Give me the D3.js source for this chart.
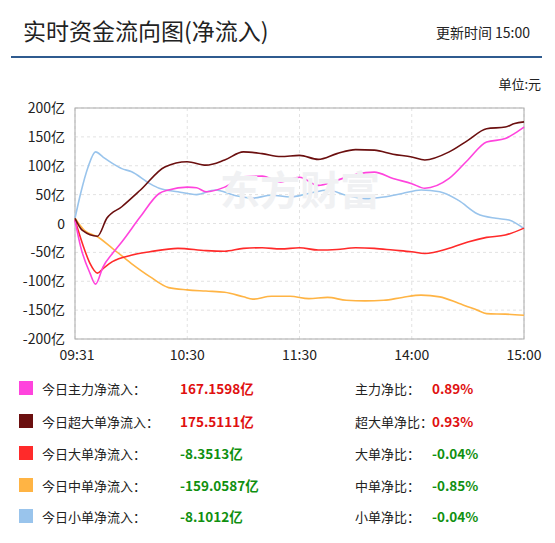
<!DOCTYPE html>
<html><head><meta charset="utf-8">
<script src="https://cdn.jsdelivr.net/npm/d3@7"></script>
<style>body{margin:0;background:#fff;font-family:"Noto Sans CJK SC",sans-serif;}</style>
</head><body>
<script>
// minute index 0..240 (morning + afternoon session)
var timeTicks = [0, 60, 120, 180, 240];
var timeLabels = ["09:31", "10:30", "11:30", "14:00", "15:00"];
var yTicks = [200, 150, 100, 50, 0, -50, -100, -150, -200];

var mainT = [0,3,8,11,15,20,25,35,45,50,60,65,70,80,90,100,110,120,130,140,150,160,170,180,187,200,210,220,230,235,240];
var mainV = [6,-40,-86,-105,-75,-52,-32,12,52,58,63,62,55,63,81,82,72,80,66,75,85,89,78,69,61,78,110,141,147,156,167];
var superT = [0,4,12,17,25,35,48,60,70,80,90,100,110,120,130,140,150,160,170,180,187,200,210,220,230,235,240];
var superV = [9,-12,-22,9,29,58,98,107,101,110,124,121,116,118,111,121,128,127,120,115,110,124,144,164,167,173,176];
var largeT = [0,4,8,12,15,20,30,40,55,70,80,90,100,110,120,130,140,150,160,170,180,187,200,210,220,230,240];
var largeV = [6,-35,-69,-86,-78,-66,-55,-49,-43,-47,-48,-43,-42,-44,-42,-46,-45,-42,-43,-46,-49,-52,-43,-32,-24,-20,-8];
var midT = [0,5,12,20,30,40,50,60,70,80,90,95,105,115,125,135,145,155,165,175,185,195,205,215,220,230,240];
var midV = [9,-12,-23,-43,-69,-92,-111,-115,-117,-119,-127,-131,-126,-126,-130,-128,-133,-134,-133,-128,-124,-127,-138,-150,-156,-157,-159];
var smallT = [0,3,7,11,15,20,25,30,40,45,55,65,75,85,95,105,115,125,135,145,155,165,175,185,195,205,215,225,232,240];
var smallV = [9,52,98,124,115,104,95,90,69,61,55,50,58,49,44,49,46,52,58,49,43,46,52,58,55,40,17,9,6,-9];

var names = ["今日主力净流入：", "今日超大单净流入：", "今日大单净流入：", "今日中单净流入：", "今日小单净流入："];
var values = ["167.1598亿", "175.5111亿", "-8.3513亿", "-159.0587亿", "-8.1012亿"];
var ratioNames = ["主力净比：", "超大单净比：", "大单净比：", "中单净比：", "小单净比："];
var ratios = ["0.89%", "0.93%", "-0.04%", "-0.85%", "-0.04%"];
var colors = ["#ff44dd", "#6b0f0f", "#ff2a2a", "#ffb444", "#99c4ec"];

var series = [[mainT, mainV], [superT, superV], [largeT, largeV], [midT, midV], [smallT, smallV]];

var svg = d3.select("body").append("svg").attr("width", 555).attr("height", 543)
  .style("font-family", '"Noto Sans CJK SC", sans-serif');

svg.append("text").attr("x", 23).attr("y", 40).attr("font-size", 23).attr("fill", "#222").text("实时资金流向图(净流入)");
svg.append("text").attr("x", 530).attr("y", 38).attr("text-anchor", "end").attr("font-size", 14).attr("fill", "#222").text("更新时间 15:00");
svg.append("rect").attr("x", 11).attr("y", 56).attr("width", 531).attr("height", 2).attr("fill", "#2f5b8f");
svg.append("text").attr("x", 541).attr("y", 89).attr("text-anchor", "end").attr("font-size", 13).attr("fill", "#222").text("单位:元");

var L = 75, R = 524, T = 108, B = 339;
var x = d3.scaleLinear().domain([0, 240]).range([L, R]);
var y = d3.scaleLinear().domain([-200, 200]).range([B, T]);

var g = svg.append("g");
g.selectAll(".hg").data(yTicks).enter().append("line")
  .attr("x1", L).attr("x2", R).attr("y1", d => y(d)).attr("y2", d => y(d))
  .attr("stroke", "#e2e2e2").attr("stroke-dasharray", "3,3");
g.selectAll(".vg").data(timeTicks).enter().append("line")
  .attr("y1", T).attr("y2", B).attr("x1", d => x(d)).attr("x2", d => x(d))
  .attr("stroke", "#e2e2e2").attr("stroke-dasharray", "3,3");

svg.append("text").attr("x", 300).attr("y", 205).attr("text-anchor", "middle").attr("font-size", 40)
  .attr("font-weight", "bold").attr("fill", "#f0f1f3").text("东方财富");

g.append("rect").attr("x", L).attr("y", T).attr("width", R - L).attr("height", B - T)
  .attr("fill", "none").attr("stroke", "#aaa");

g.selectAll(".yl").data(yTicks).enter().append("text")
  .attr("x", 65).attr("y", d => y(d) + 5).attr("text-anchor", "end").attr("font-size", 14).attr("fill", "#222")
  .text(d => d === 0 ? "0" : d + "亿");
g.selectAll(".xl").data(timeTicks).enter().append("text")
  .attr("x", (d, i) => i === 0 ? x(d) + 2 : x(d)).attr("y", 360).attr("text-anchor", "middle").attr("font-size", 14).attr("fill", "#222")
  .text((d, i) => timeLabels[i]);

var line = d3.line().x(d => x(d[0])).y(d => y(d[1])).curve(d3.curveMonotoneX);
[4, 3, 2, 0, 1].forEach(function (i) {
  var pts = series[i][0].map((t, k) => [t, series[i][1][k]]);
  g.append("path").attr("d", line(pts)).attr("fill", "none").attr("stroke", colors[i]).attr("stroke-width", 1.6);
});

var rowY = [390, 423, 455, 487, 518];
names.forEach(function (n, i) {
  var ry = rowY[i];
  var up = values[i][0] !== "-";
  svg.append("rect").attr("x", 19).attr("y", ry - 9).attr("width", 14).attr("height", 14).attr("fill", colors[i]);
  svg.append("text").attr("x", 42).attr("y", ry + 4).attr("font-size", 13).attr("fill", "#222").text(n);
  svg.append("text").attr("x", 180).attr("y", ry + 4).attr("font-size", 13.5).attr("font-weight", "bold")
    .attr("fill", up ? "#e01010" : "#109010").text(values[i]);
  svg.append("text").attr("x", 355).attr("y", ry + 4).attr("font-size", 13).attr("fill", "#222").text(ratioNames[i]);
  svg.append("text").attr("x", 432).attr("y", ry + 4).attr("font-size", 13.5).attr("font-weight", "bold")
    .attr("fill", ratios[i][0] !== "-" ? "#e01010" : "#109010").text(ratios[i]);
});
</script>
</body></html>
